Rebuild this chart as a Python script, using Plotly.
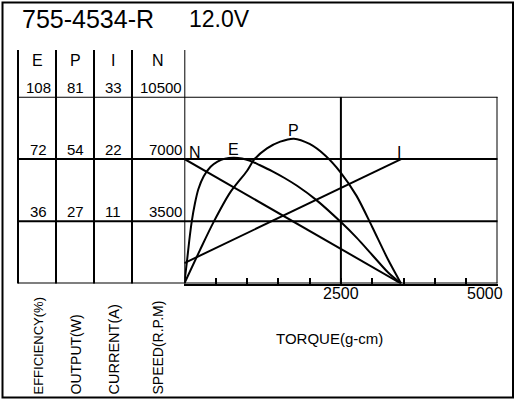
import plotly.graph_objects as go

W, H = 516, 400

# curve data (torque in g-cm)
torque_n = [0, 3460]
speed = [7000, 0]

torque_i = [0, 3470]
current = [3.6, 22]

torque_e = [0, 40, 80, 118, 171, 224, 310, 420, 530, 650, 790, 920, 1050,
            1200, 1400, 1600, 1800, 2100, 2500, 2750, 3000, 3250, 3460]
efficiency = [0, 12, 25, 35.6, 46.5, 54.5, 62, 67.5, 70.5, 72.2, 72.7, 72.3, 71,
              68.5, 65, 61, 56.5, 48.5, 35.5, 26.5, 16.5, 6.5, 0]

torque_p = [0, 250, 465, 733, 1000, 1117, 1320, 1532, 1750, 2000, 2250, 2500,
            2750, 3000, 3250, 3460]
output = [0, 14.5, 26.5, 39.5, 48.8, 53.8, 58.6, 61.5, 62.8, 60.5, 55.5, 48,
          38, 24.5, 10.5, 0]

# scale labels of the left table
eff_ticks = [36, 72, 108]
out_ticks = [27, 54, 81]
cur_ticks = [11, 22, 33]
spd_ticks = [3500, 7000, 10500]
torque_ticks = [2500, 5000]

FONT = "Liberation Sans, Arial, sans-serif"
BLK = "black"


def px(x):
    return x / W


def py(y):
    return 1 - y / H


line = dict(color=BLK, width=2)
fig = go.Figure()
fig.add_trace(go.Scatter(x=torque_n, y=speed, mode="lines", line=line, yaxis="y"))
fig.add_trace(go.Scatter(x=torque_i, y=current, mode="lines", line=line, yaxis="y2"))
fig.add_trace(go.Scatter(x=torque_e, y=efficiency, mode="lines",
                         line=dict(color=BLK, width=2, shape="spline", smoothing=0.8),
                         yaxis="y3"))
fig.add_trace(go.Scatter(x=torque_p, y=output, mode="lines",
                         line=dict(color=BLK, width=2, shape="spline", smoothing=0.8),
                         yaxis="y4"))

ydom = [py(283.5), py(96.7)]
hidden = dict(visible=False, overlaying="y", fixedrange=True)

fig.update_layout(
    width=W, height=H,
    margin=dict(l=0, r=0, t=0, b=0),
    paper_bgcolor="white", plot_bgcolor="white",
    showlegend=False,
    font=dict(family=FONT, color=BLK),
    xaxis=dict(domain=[px(184.3), px(497.5)], range=[0, 5000],
               showgrid=False, zeroline=False,
               showline=True, linecolor=BLK, linewidth=2,
               tickmode="linear", tick0=0, dtick=500, ticks="inside",
               ticklen=6, tickwidth=2, tickcolor=BLK,
               showticklabels=False, layer="above traces"),
    yaxis=dict(domain=ydom, range=[0, 10500], showgrid=False, zeroline=False,
               showline=False, showticklabels=False, ticks=""),
    yaxis2=dict(range=[0, cur_ticks[-1]], **hidden),
    yaxis3=dict(range=[0, eff_ticks[-1]], **hidden),
    yaxis4=dict(range=[0, out_ticks[-1]], **hidden),
)

shapes = []
# outer frame
shapes.append(dict(type="rect", xref="paper", yref="paper",
                   x0=px(2.5), x1=px(513), y0=py(397.5), y1=py(2.5),
                   line=dict(color=BLK, width=2)))
# horizontal rules through table and plot
for v in [0] + spd_ticks:
    shapes.append(dict(type="line", xref="paper", yref="y",
                       x0=px(18), x1=px(497.5), y0=v, y1=v, line=line))
# table column rules
for xc in [18, 56, 94, 132]:
    shapes.append(dict(type="line", xref="paper", yref="y domain",
                       x0=px(xc), x1=px(xc), y0=0, y1=1.25, line=line))
shapes.append(dict(type="line", xref="x", yref="y domain",
                   x0=0, x1=0, y0=0, y1=1.25, line=line))
# vertical grid lines
for t in torque_ticks:
    shapes.append(dict(type="line", xref="x", yref="y",
                       x0=t, x1=t, y0=0, y1=spd_ticks[-1], line=line))
fig.update_layout(shapes=shapes)

ann = []


def text(s, **kw):
    d = dict(text=s, showarrow=False, font=dict(family=FONT, size=15, color=BLK))
    d.update(kw)
    ann.append(d)


# title
text("755-4534-R", xref="paper", yref="paper", x=px(20), y=py(19),
     xanchor="left", yanchor="middle", font=dict(family=FONT, size=25, color=BLK))
text("12.0V", xref="paper", yref="paper", x=px(187), y=py(19),
     xanchor="left", yanchor="middle", font=dict(family=FONT, size=23, color=BLK))

# table headers
col_x = [37, 75, 113, 158]
for h, xc in zip(["E", "P", "I", "N"], col_x):
    text(h, xref="paper", yref="paper", x=px(xc), y=py(60), xanchor="center",
         yanchor="middle", font=dict(family=FONT, size=16, color=BLK))

# table scale values, placed on their own axes
for vals, yr, xc in [(eff_ticks, "y3", 38), (out_ticks, "y4", 75), (cur_ticks, "y2", 113)]:
    for v in vals:
        text(str(v), xref="paper", yref=yr, x=px(xc), y=v, xanchor="center",
             yanchor="bottom", yshift=-1)
for v in spd_ticks:
    text(str(v), xref="paper", yref="y", x=px(184), y=v, xanchor="right",
         yanchor="bottom", yshift=-1)

# x tick labels
text(str(torque_ticks[0]), xref="x", yref="paper", x=torque_ticks[0], y=py(293.5),
     xanchor="center", yanchor="middle", font=dict(family=FONT, size=16, color=BLK))
text(str(torque_ticks[1]), xref="x", yref="paper", x=torque_ticks[1], y=py(293.5),
     xanchor="right", yanchor="middle", xshift=7,
     font=dict(family=FONT, size=16, color=BLK))

# axis names
for s, xc, fs in zip(["EFFICIENCY(%)", "OUTPUT(W)", "CURRENT(A)", "SPEED(R.P.M)"],
                     [38, 75, 113, 157], [13, 14, 14.5, 14]):
    text(s, xref="paper", yref="paper", x=px(xc), y=py(396.5), textangle=-90,
         xanchor="center", yanchor="bottom", font=dict(family=FONT, size=fs, color=BLK))
text("TORQUE(g-cm)", xref="paper", yref="paper", x=px(329), y=py(338),
     xanchor="center", yanchor="middle", font=dict(family=FONT, size=15, color=BLK))

# curve names
lab = dict(family=FONT, size=16, color=BLK)
text("N", xref="x", yref="y", x=torque_n[0], y=speed[0], xanchor="left",
     yanchor="bottom", xshift=3, yshift=-4, font=lab)
ie = efficiency.index(max(efficiency))
text("E", xref="x", yref="y3", x=torque_e[ie], y=efficiency[ie], xanchor="center",
     yanchor="bottom", yshift=-2, font=lab)
ip = output.index(max(output))
text("P", xref="x", yref="y4", x=torque_p[ip], y=output[ip], xanchor="center",
     yanchor="bottom", yshift=-2, font=lab)
text("I", xref="x", yref="y2", x=torque_i[-1], y=current[-1], xanchor="center",
     yanchor="bottom", xshift=-3, yshift=-4, font=lab)

fig.update_layout(annotations=ann)
# the page's default body margin would push the chart out of the window
fig.write_html("out.html", config={"displayModeBar": False},
               post_script="document.body.style.margin='0';")
